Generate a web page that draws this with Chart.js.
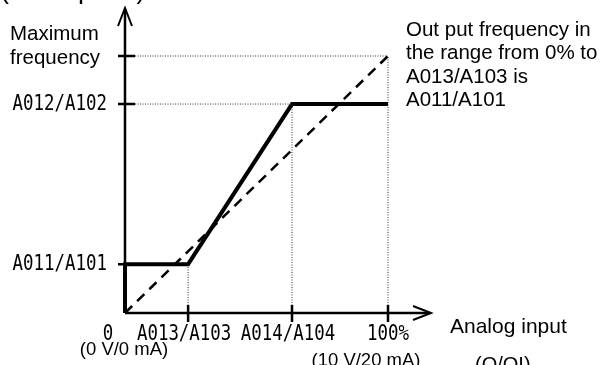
<!DOCTYPE html>
<html>
<head>
<meta charset="utf-8">
<script src="https://cdn.jsdelivr.net/npm/chart.js@4.4.1/dist/chart.umd.min.js"></script>
<style>
  html, body { margin: 0; padding: 0; background: #ffffff; }
  #wrap { width: 605px; height: 365px; position: relative; }
</style>
</head>
<body>
<div id="wrap"><canvas id="c"></canvas></div>
<script>
// ---- data ----
const inputLevels = [0, 24, 63.5, 100];          // 0, A013/A103, A014/A104, 100 %
const inputLabels = ['0', 'A013/A103', 'A014/A104', '100%'];
const freqLevels = [0, 19, 81.3, 100];           // 0, A011/A101, A012/A102, maximum
const freqLabels = ['', 'A011/A101', 'A012/A102', ''];
const maxFreqLabel = ['Maximum', 'frequency'];
const outputX = [0, 0, 24, 63.5, 100];
const outputY = [0, 19, 19, 81.3, 81.3];
const linearX = [0, 100];
const linearY = [0, 100];
const noteLines = ['Out put frequency in', 'the range from 0% to', 'A013/A103 is', 'A011/A101'];
const xAxisTitle = 'Analog input';
const xAxisSub = '(O/OI)';
const xSubLabels = ['(0 V/0 mA)', '(10 V/20 mA)'];
const titleText = '(Example 1) A015/A105: 0';

const pts = (xs, ys) => xs.map((x, i) => ({ x: x, y: ys[i] }));

// dotted guide lines built from the levels
const guides = [
  pts([0, inputLevels[3]], [freqLevels[3], freqLevels[3]]),
  pts([0, inputLevels[2]], [freqLevels[2], freqLevels[2]]),
  pts([inputLevels[1], inputLevels[1]], [0, freqLevels[1]]),
  pts([inputLevels[2], inputLevels[2]], [0, freqLevels[2]]),
  pts([inputLevels[3], inputLevels[3]], [0, freqLevels[3]])
];

const datasets = guides.map(g => ({
  data: g, showLine: true, borderColor: '#333', borderWidth: 1,
  borderDash: [1, 1.5], pointRadius: 0, clip: false
}));
datasets.push({
  data: pts(linearX, linearY), showLine: true, borderColor: '#000', borderWidth: 2.5,
  borderDash: [10, 7], pointRadius: 0, clip: false
});
datasets.push({
  data: pts(outputX, outputY), showLine: true, borderColor: '#000', borderWidth: 4,
  pointRadius: 0, clip: false, borderJoinStyle: 'miter', borderCapStyle: 'butt'
});

const SANS = '"Liberation Sans", Arial, sans-serif';
const MONO = '"DejaVu Sans Mono", monospace';

function monoText(ctx, text, x, y, align) {
  ctx.save();
  ctx.font = '20.5px ' + MONO;
  const sc = 0.85;
  const w = ctx.measureText(text).width * sc;
  let sx = x;
  if (align === 'right') sx = x - w;
  else if (align === 'center') sx = x - w / 2;
  ctx.translate(sx, y);
  ctx.scale(sc, 1);
  ctx.textAlign = 'left';
  ctx.fillText(text, 0, 0);
  ctx.restore();
}

const decor = {
  id: 'decor',
  afterDatasetsDraw(chart) {
    const ctx = chart.ctx;
    const xs = chart.scales.x, ys = chart.scales.y;
    const ox = xs.getPixelForValue(0), oy = ys.getPixelForValue(0);
    ctx.save();
    ctx.strokeStyle = '#000';
    ctx.fillStyle = '#000';
    ctx.lineCap = 'butt';
    // axes
    ctx.lineWidth = 2.5;
    ctx.beginPath();
    ctx.moveTo(ox, oy); ctx.lineTo(ox, 9);
    ctx.moveTo(ox, oy); ctx.lineTo(430, oy);
    ctx.stroke();
    // arrow heads
    ctx.lineWidth = 2;
    ctx.beginPath();
    ctx.moveTo(ox - 7, 26); ctx.lineTo(ox, 8); ctx.lineTo(ox + 7, 26);
    ctx.moveTo(413, oy - 7); ctx.lineTo(431, oy); ctx.lineTo(413, oy + 7);
    ctx.stroke();
    // ticks
    ctx.lineWidth = 2.5;
    ctx.beginPath();
    for (let i = 1; i < freqLevels.length; i++) {
      const py = ys.getPixelForValue(freqLevels[i]);
      ctx.moveTo(ox - 7, py); ctx.lineTo(ox + 10, py);
    }
    for (let i = 1; i < inputLevels.length; i++) {
      const px = xs.getPixelForValue(inputLevels[i]);
      ctx.moveTo(px, oy - 8); ctx.lineTo(px, oy + 9);
    }
    ctx.stroke();

    // y tick labels
    ctx.textBaseline = 'middle';
    for (let i = 1; i < freqLevels.length; i++) {
      if (!freqLabels[i]) continue;
      monoText(ctx, freqLabels[i], ox - 18, ys.getPixelForValue(freqLevels[i]) + 1, 'right');
    }
    // max frequency label
    ctx.textBaseline = 'alphabetic';
    ctx.font = '20.5px ' + SANS;
    ctx.textAlign = 'left';
    ctx.fillText(maxFreqLabel[0], 10, 40);
    ctx.fillText(maxFreqLabel[1], 10, 64);

    // x tick labels
    for (let i = 0; i < inputLevels.length; i++) {
      let px = xs.getPixelForValue(inputLevels[i]);
      if (i === 0) px -= 17;
      else if (i < 3) px -= 4;
      monoText(ctx, inputLabels[i], px, 340, 'center');
    }
    ctx.font = '18.5px ' + SANS;
    ctx.textAlign = 'center';
    ctx.fillText(xSubLabels[0], ox - 1, 355);
    ctx.fillText(xSubLabels[1], xs.getPixelForValue(inputLevels[3]) - 22, 366);

    // axis title
    ctx.font = '21px ' + SANS;
    ctx.textAlign = 'left';
    ctx.fillText(xAxisTitle, 450, 333);
    ctx.font = '20px ' + SANS;
    ctx.fillText(xAxisSub, 475, 371);

    // note
    ctx.font = '20.5px ' + SANS;
    noteLines.forEach((t, i) => ctx.fillText(t, 406, 36 + i * 23.3));

    // clipped title (only the descenders show at the top edge)
    ctx.font = '27px ' + SANS;
    ctx.fillText(titleText, 0, -2);
    ctx.restore();
  }
};

new Chart(document.getElementById('c'), {
  type: 'scatter',
  data: { datasets: datasets },
  options: {
    responsive: true,
    maintainAspectRatio: false,
    animation: false,
    events: [],
    layout: { padding: { left: 125, right: 217, top: 56, bottom: 52 } },
    plugins: { legend: { display: false }, tooltip: { enabled: false } },
    scales: {
      x: { type: 'linear', min: 0, max: 100, display: false },
      y: { type: 'linear', min: 0, max: 100, display: false }
    }
  },
  plugins: [decor]
});
</script>
</body>
</html>
